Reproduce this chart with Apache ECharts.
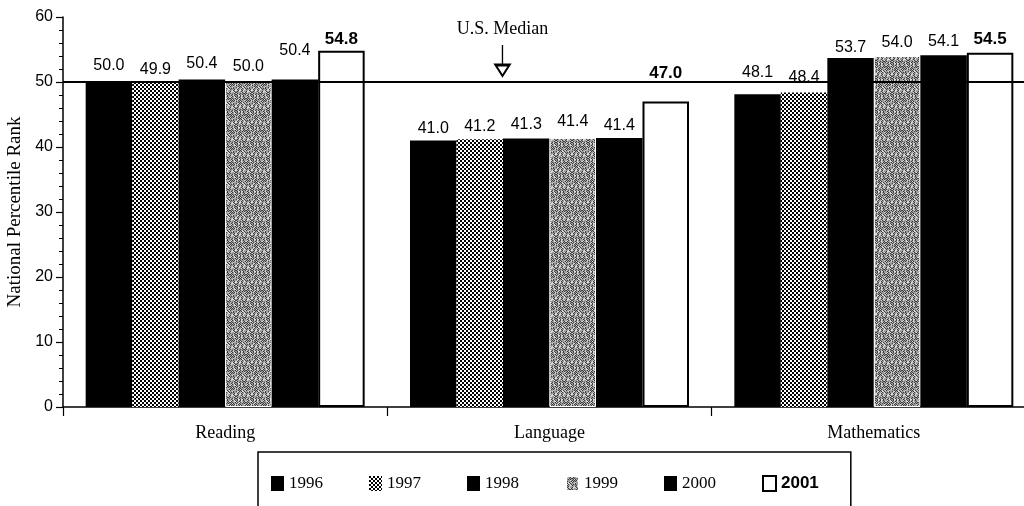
<!DOCTYPE html>
<html>
<head>
<meta charset="utf-8">
<script src="https://cdn.jsdelivr.net/npm/echarts@6/dist/echarts.min.js"></script>
<style>
html,body{margin:0;padding:0;background:#fff;}
#chart{width:1024px;height:506px;}
</style>
</head>
<body>
<div id="chart"></div>
<script>
// ---------- data ----------
const categories = ['Reading', 'Language', 'Mathematics'];
const years = ['1996', '1997', '1998', '1999', '2000', '2001'];
const values1996 = [50.0, 41.0, 48.1];
const values1997 = [49.9, 41.2, 48.4];
const values1998 = [50.4, 41.3, 53.7];
const values1999 = [50.0, 41.4, 54.0];
const values2000 = [50.4, 41.4, 54.1];
const values2001 = [54.8, 47.0, 54.5];
const usMedian = 50;
const medianLabel = 'U.S. Median';
const yTicks = [0, 10, 20, 30, 40, 50, 60];

// ---------- styling ----------
function checkerPattern() {
  const c = document.createElement('canvas');
  c.width = 4; c.height = 4;
  const g = c.getContext('2d');
  g.fillStyle = '#fff'; g.fillRect(0, 0, 4, 4);
  g.fillStyle = '#000';
  g.fillRect(0, 0, 2, 2); g.fillRect(2, 2, 2, 2);
  return c;
}
function speckPattern() {
  const n = 16;
  const c = document.createElement('canvas');
  c.width = n; c.height = n;
  const g = c.getContext('2d');
  g.fillStyle = '#9c9c9c'; g.fillRect(0, 0, n, n);
  for (let x = 0; x < n; x++) {
    for (let y = 0; y < n; y++) {
      const h = (x * 37 + y * 91 + x * y * 13 + (x ^ y) * 7) % 13;
      if (h < 4) { g.fillStyle = '#3c3c3c'; g.fillRect(x, y, 1, 1); }
      else if (h === 5 || h === 9 || h === 11) { g.fillStyle = '#dadada'; g.fillRect(x, y, 1, 1); }
    }
  }
  return c;
}
const fills = [
  {color: '#000'},
  {color: {image: checkerPattern(), repeat: 'repeat'}},
  {color: '#000'},
  {color: {image: speckPattern(), repeat: 'repeat'}, borderColor: '#fff', borderWidth: 1},
  {color: '#000'},
  {color: '#fff', borderColor: '#000', borderWidth: 2}
];
// label gap above each bar (per year, per category) to mimic reference placement
const labelGaps = [
  [8, 4, 14],
  [5, 5, 7],
  [8, 6, 2],
  [7, 8, 5],
  [21, 4, 6],
  [3, 20, 5]
];
const seriesValues = [values1996, values1997, values1998, values1999, values2000, values2001];

const barSeries = years.map((yr, i) => ({
  name: yr,
  type: 'bar',
  barWidth: 46.5,
  barGap: '0%',
  itemStyle: fills[i],
  data: seriesValues[i].map((v, j) => ({
    value: v,
    label: {distance: labelGaps[i][j]}
  })),
  label: {
    show: true,
    position: 'top',
    formatter: p => p.value.toFixed(1),
    fontFamily: 'Liberation Sans, Arial, sans-serif',
    fontSize: i === 5 ? 17 : 16,
    fontWeight: i === 5 ? 'bold' : 'normal',
    color: '#000'
  }
}));

const annotationSeries = {
  name: 'median',
  type: 'scatter',
  xAxisIndex: 1,
  z: 10,
  silent: true,
  symbol: 'path://M7,0 L7,20 M0,20 L14,20 L7,31 Z',
  symbolSize: [14, 31],
  symbolOffset: [0, -21.5],
  itemStyle: {color: 'rgba(0,0,0,0)', borderColor: '#000', borderWidth: 2, opacity: 1},
  label: {
    show: true,
    position: 'top',
    distance: 5,
    formatter: medianLabel,
    fontFamily: 'Liberation Serif, Times New Roman, serif',
    fontSize: 18,
    color: '#000',
    opacity: 1
  },
  data: [[1.355, usMedian]],
  markLine: {
    silent: true,
    symbol: 'none',
    label: {show: false},
    lineStyle: {color: '#000', width: 2, type: 'solid', opacity: 1},
    data: [{yAxis: usMedian}]
  }
};

const chart = echarts.init(document.getElementById('chart'), null, {renderer: 'canvas'});
chart.setOption({
  animation: false,
  backgroundColor: '#fff',
  grid: {left: 63, top: 17, width: 973, height: 390, containLabel: false, outerBoundsMode: 'none'},
  legend: {
    left: 258,
    top: 452,
    orient: 'horizontal',
    itemWidth: 13,
    itemHeight: 15,
    itemGap: 46,
    padding: [23, 32, 30, 13],
    borderColor: '#000',
    borderWidth: 1.5,
    icon: 'rect',
    selectedMode: false,
    textStyle: {fontFamily: 'Liberation Serif, Times New Roman, serif', fontSize: 17, color: '#000'},
    data: years.map((y, i) => i === 5
      ? {name: y, textStyle: {fontFamily: 'Liberation Sans, Arial, sans-serif', fontWeight: 'bold', fontSize: 17}}
      : {name: y})
  },
  xAxis: [{
    type: 'category',
    data: categories,
    axisLine: {lineStyle: {color: '#000', width: 1.5}},
    axisTick: {show: true, length: 9, interval: 0, lineStyle: {color: '#000', width: 1.2}},
    axisLabel: {margin: 17, fontFamily: 'Liberation Serif, Times New Roman, serif', fontSize: 18, color: '#000'}
  }, {
    type: 'value', min: 0, max: categories.length, show: false
  }],
  yAxis: {
    type: 'value',
    min: yTicks[0],
    max: yTicks[yTicks.length - 1],
    interval: 10,
    name: 'National Percentile Rank',
    nameLocation: 'middle',
    nameGap: 37,
    nameTextStyle: {fontFamily: 'Liberation Serif, Times New Roman, serif', fontSize: 19, color: '#000'},
    axisLine: {show: true, lineStyle: {color: '#000', width: 1.5}},
    axisTick: {show: true, length: 7, lineStyle: {color: '#000', width: 1.2}},
    minorTick: {show: true, splitNumber: 5, length: 4, lineStyle: {color: '#000', width: 1}},
    splitLine: {show: false},
    axisLabel: {margin: 10, fontFamily: 'Liberation Sans, Arial, sans-serif', fontSize: 16, color: '#000'}
  },
  series: barSeries.concat([annotationSeries])
});
</script>
</body>
</html>
